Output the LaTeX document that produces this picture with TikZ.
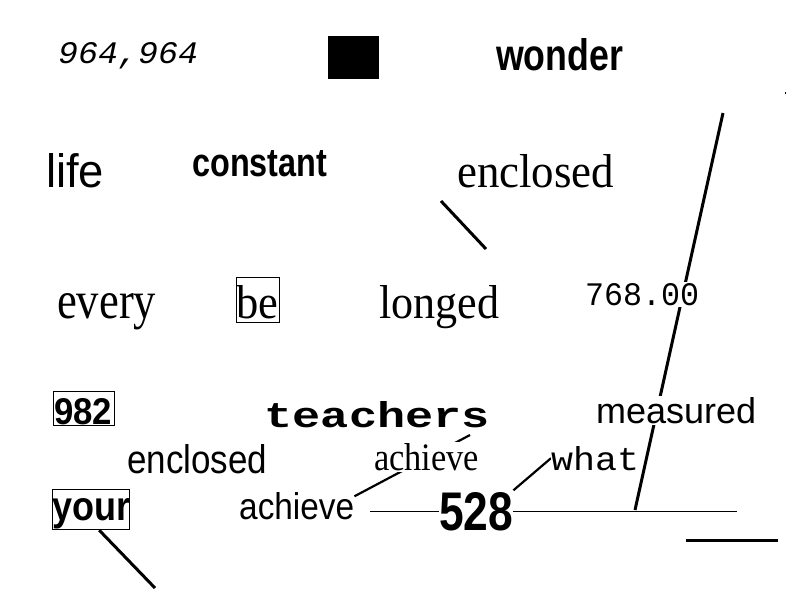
\documentclass[tikz,border=0pt]{standalone}
\usepackage{fontspec}
\setmainfont{Liberation Serif}
\setsansfont{Liberation Sans}
\setmonofont{Liberation Mono}
\usetikzlibrary{backgrounds}
\newcommand\fitbox[3]{\resizebox{#1pt}{#2pt}{#3}}
\tikzset{
  txt/.style={anchor=base west, inner xsep=0pt, inner ysep=1.5pt, fill=white},
  frame/.style={draw=black, line width=1pt},
  link/.style={draw=black, line width=2.2pt},
  rule/.style={draw=black, line width=3pt},
  hair/.style={draw=black, line width=1pt},
}
\begin{document}
\begin{tikzpicture}[x=1pt,y=-1pt]
\useasboundingbox (0,0) rectangle (800,600);
% texts
\node[txt] (n964) at (58,63) {\fitbox{140}{21}{\ttfamily\itshape 964,964}};
\node[anchor=north west, fill=black, inner sep=0pt, minimum width=51pt, minimum height=43pt] (blk) at (328,36) {};
\node[txt] (wonder) at (496,70) {\fitbox{127}{32}{\sffamily\bfseries wonder}};
\node[txt] (life) at (46,187) {\fitbox{58}{34}{\sffamily life}};
\node[txt] (constant) at (192,176) {\fitbox{135}{26}{\sffamily\bfseries constant}};
\node[txt] (enclA) at (457,187) {\fitbox{157}{33}{\rmfamily enclosed}};
\node[txt] (every) at (57,318) {\fitbox{99}{25}{\rmfamily every}};
\node[txt] (be) at (236,318) {\fitbox{42}{33}{\rmfamily be}};
\node[txt] (longed) at (379,318) {\fitbox{120}{33}{\rmfamily longed}};
\node[txt] (n768) at (585,305) {\fitbox{114}{22}{\ttfamily 768.00}};
\node[txt] (n982) at (54,424) {\fitbox{58}{26}{\sffamily\bfseries 982}};
\node[txt] (teachers) at (264.5,427) {\fitbox{225}{26}{\ttfamily\bfseries teachers}};
\node[txt] (measured) at (596,423) {\fitbox{160}{26}{\sffamily measured}};
\node[txt] (enclB) at (127,473) {\fitbox{140}{29}{\sffamily enclosed}};
\node[txt] (achR) at (374,470) {\fitbox{105}{27}{\rmfamily achieve}};
\node[txt] (what) at (551,470) {\fitbox{88}{24}{\ttfamily what}};
\node[txt] (your) at (52,520) {\fitbox{78}{22}{\sffamily\bfseries your}};
\node[txt] (achS) at (239,519) {\fitbox{115}{27}{\sffamily achieve}};
\node[txt] (n528) at (439,530) {\fitbox{74}{38}{\sffamily\bfseries 528}};
% frames
\draw[frame] (236,277) rectangle (279,322);
\draw[frame] (53,391) rectangle (114,425);
\draw[frame] (52,489) rectangle (129,529);
% free ends
\coordinate (lA) at (723,113);
\coordinate (lB) at (635,510);
\coordinate (eA) at (441,201);
\coordinate (eB) at (486,249);
\coordinate (yEnd) at (155,588);
\coordinate (tEnd) at (470,435);
\coordinate (hA) at (370,511);
\coordinate (hB) at (737,511);
\coordinate (rA) at (686,540);
\coordinate (rB) at (778,540);
\begin{pgfonlayer}{background}
  \fill[white] (0,0) rectangle (800,600);
  \draw[rule] (lA) -- (lB);
  \draw[rule] (eA) -- (eB);
  \draw[rule] ([xshift=8pt]your.south) -- (yEnd);
  \draw[link] ([yshift=-6pt]achS.north east) -- (tEnd);
  \draw[link] (n528.north east) -- (what.west);
  \draw[hair] (hA) -- (hB);
  \draw[rule] (rA) -- (rB);
  \fill[black] (784.5,92) rectangle (785.5,94);
\end{pgfonlayer}
\end{tikzpicture}
\end{document}
